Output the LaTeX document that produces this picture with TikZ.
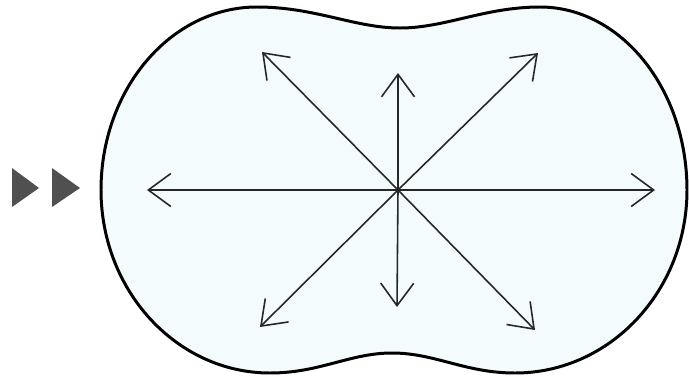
\documentclass[tikz,border=0pt]{standalone}
\usetikzlibrary{arrows.meta}
\definecolor{lobefill}{RGB}{243,251,253}
\definecolor{playgray}{RGB}{80,80,80}

\begin{document}
\begin{tikzpicture}[
  x=0.2mm, y=-0.2mm,
  outline/.style={draw=black, line width=1.7pt, fill=lobefill},
  arrow/.style={-{Straight Barb[length=4.5mm, width=6.6mm, line width=0.9pt]}, line width=0.9pt, draw=black!85},
  play/.style={fill=playgray}
]
\useasboundingbox (0,0) rectangle (689,377);
% two-lobed outline
\draw[outline] (101,190) .. controls (101,89) and (171,7) .. (257,7)
  .. controls (315,7) and (355,28) .. (400,28)
  .. controls (445,28) and (485,7) .. (540,7)
  .. controls (621,7) and (687,89) .. (687,190)
  .. controls (687,291) and (610,373) .. (515,373)
  .. controls (465,373) and (435,353) .. (392,353)
  .. controls (350,353) and (320,373) .. (270,373)
  .. controls (177,373) and (101,291) .. (101,190) -- cycle;
% centre and arrow ends
\coordinate (c) at (398,190);
\coordinate (w) at (147,190);
\coordinate (e) at (655,190);
\coordinate (n) at (398,73);
\coordinate (s) at (397,307);
\coordinate (nw) at (262,52);
\coordinate (ne) at (538,53);
\coordinate (sw) at (260,327);
\coordinate (se) at (535,330);
\draw[arrow] (c) -- (w);
\draw[arrow] (c) -- (e);
\draw[arrow] (c) -- (n);
\draw[arrow] (c) -- (s);
\draw[arrow] (c) -- (nw);
\draw[arrow] (c) -- (ne);
\draw[arrow] (c) -- (sw);
\draw[arrow] (c) -- (se);
% the two markers on the left
\fill[play] (12,168) -- (12,207) -- (39,188) -- cycle;
\fill[play] (52,168) -- (52,207) -- (80,188) -- cycle;
\end{tikzpicture}
\end{document}
